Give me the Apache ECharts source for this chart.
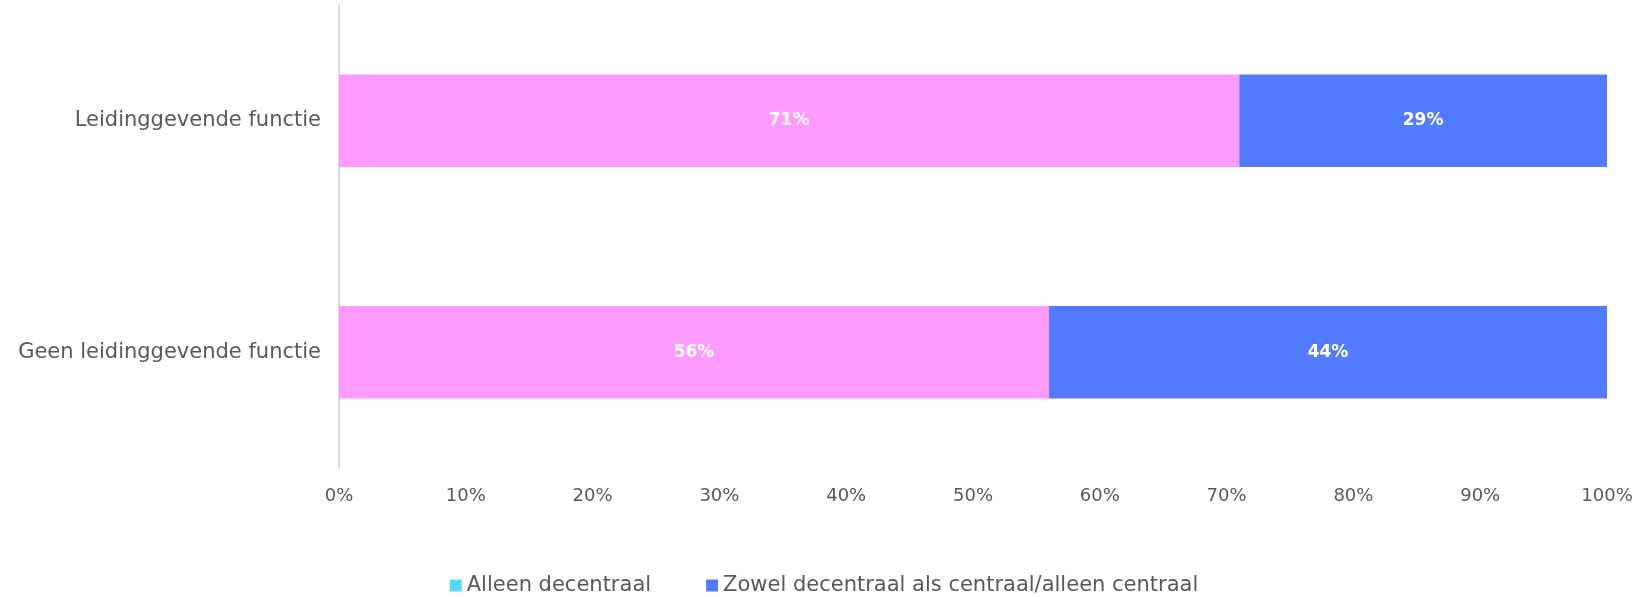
<!DOCTYPE html>
<html><head><meta charset="utf-8">
<script src="https://cdn.jsdelivr.net/npm/echarts@6/dist/echarts.min.js"></script>
<style>html,body{margin:0;padding:0;background:#fff}#c{width:1648px;height:597px}</style>
</head><body><div id="c"></div>
<script>
const categories = ['Leidinggevende functie', 'Geen leidinggevende functie'];
const seriesNames = ['Alleen decentraal', 'Zowel decentraal als centraal/alleen centraal'];
const alleenDecentraal = [71, 56];
const zowelCentraal = [29, 44];
const xTicks = [0, 10, 20, 30, 40, 50, 60, 70, 80, 90, 100];

const font = '"DejaVu Sans", sans-serif';
const chart = echarts.init(document.getElementById('c'), null, {renderer: 'canvas'});
const lbl = {show: true, position: 'inside', color: '#fff', fontWeight: 'bold', fontSize: 17, fontFamily: font, formatter: p => p.value + '%'};
chart.setOption({
  animation: false,
  grid: {left: 339, right: 41, top: 5, bottom: 129, containLabel: false},
  legend: {
    top: 575, left: 'center', itemWidth: 12, itemHeight: 12, itemGap: 55, padding: 0,
    textStyle: {color: '#595959', fontSize: 21, fontFamily: font},
    data: [
      {name: seriesNames[0], icon: 'rect', itemStyle: {color: '#5BD8FF'}},
      {name: seriesNames[1], icon: 'rect', itemStyle: {color: '#527AFF'}}
    ]
  },
  xAxis: {
    type: 'value', min: 0, max: 100, interval: 10,
    axisLine: {show: false}, axisTick: {show: false}, splitLine: {show: false},
    axisLabel: {color: '#595959', fontSize: 18, fontFamily: font, margin: 19,
      formatter: v => xTicks.includes(v) ? v + '%' : ''}
  },
  yAxis: {
    type: 'category', data: categories, inverse: true,
    axisLine: {show: true, lineStyle: {color: '#d9d9d9', width: 2}},
    axisTick: {show: false},
    axisLabel: {color: '#595959', fontSize: 21, fontFamily: font, margin: 18}
  },
  series: [
    {name: seriesNames[0], type: 'bar', stack: 't', barWidth: '40%', data: alleenDecentraal,
     itemStyle: {color: '#FF9BFF'}, label: lbl},
    {name: seriesNames[1], type: 'bar', stack: 't', barWidth: '40%', data: zowelCentraal,
     itemStyle: {color: '#527AFF'}, label: lbl}
  ]
});
</script></body></html>
